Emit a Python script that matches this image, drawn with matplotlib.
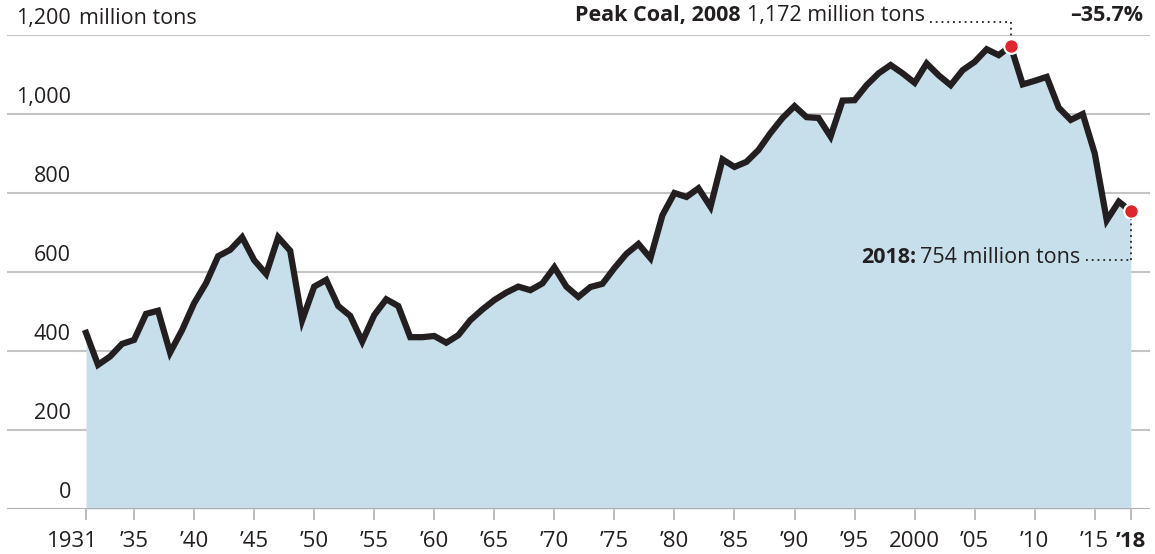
import matplotlib.pyplot as plt
from matplotlib.transforms import ScaledTranslation

# US coal production, million tons
years = list(range(1931, 2019))
tons = [446, 365, 386, 418, 428, 494, 502, 396, 453, 521,
        572, 640, 656, 688, 630, 595, 688, 654, 478, 563,
        580, 514, 489, 424, 491, 531, 514, 435, 435, 438,
        421, 440, 478, 505, 529, 548, 563, 554, 571, 612,
        563, 537, 562, 570, 610, 646, 671, 635, 744, 800,
        790, 812, 765, 885, 866, 879, 909, 952, 990, 1020,
        992, 990, 943, 1034, 1035, 1073, 1103, 1124, 1103, 1079,
        1128, 1098, 1073, 1111, 1132, 1164, 1149, 1172, 1075, 1084,
        1094, 1016, 985, 1000, 900, 731, 778, 754]

y_ticks = [0, 200, 400, 600, 800, 1000, 1200]
y_labels = ['0', '200', '400', '600', '800', '1,000', '1,200']
x_ticks = [1931, 1935, 1940, 1945, 1950, 1955, 1960, 1965, 1970, 1975,
           1980, 1985, 1990, 1995, 2000, 2005, 2010, 2015, 2018]
x_labels = ['1931', '’35', '’40', '’45', '’50', '’55', '’60', '’65', '’70', '’75',
            '’80', '’85', '’90', '’95', '2000', '’05', '’10', '’15', '’18']

peak_year, peak_val = 2008, 1172
last_year, last_val = 2018, 754

plt.rcParams['font.family'] = ['Open Sans', 'DejaVu Sans']
ink = '#231f20'
fs = 15.5

fig = plt.figure(figsize=(11.55, 5.54), dpi=100)
ax = fig.add_axes([7 / 1155, 45 / 554, 1143 / 1155, 474 / 554])
ax.set_xlim(1924.42, 2019.6)
ax.set_ylim(0, 1200)

for s in ax.spines.values():
    s.set_visible(False)

# gridlines
for v in y_ticks[1:]:
    ax.axhline(v, color='#c4c4c4', lw=1.5, zorder=1)
ax.axhline(0, color='#b0b0b0', lw=2.2, zorder=4)

ax.fill_between(years, tons, 0, color='#c7dfea', lw=0, zorder=2)
ax.plot(years, tons, color=ink, lw=4.5, solid_joinstyle='miter', zorder=3)

ax.plot([peak_year, last_year], [peak_val, last_val], 'o', ms=10.5,
        mfc='#e2242b', mec='white', mew=1.6, zorder=5, clip_on=False)

# y labels above gridlines
ax.set_yticks([])
for v, lab in zip(y_ticks, y_labels):
    ax.annotate(lab, xy=(0, v), xycoords=('axes fraction', 'data'),
                xytext=(64, 6), textcoords='offset pixels',
                ha='right', va='bottom', fontsize=fs, color=ink)
ax.annotate('million tons', xy=(0, 1200), xycoords=('axes fraction', 'data'),
            xytext=(72, 6), textcoords='offset pixels',
            ha='left', va='bottom', fontsize=fs, color=ink)

# x ticks
ax.set_xticks(x_ticks)
ax.set_xticklabels(x_labels)
ax.tick_params(axis='x', length=8, width=1.2, color='#b0b0b0', pad=8,
               labelsize=16, labelcolor=ink)
labs = ax.get_xticklabels()
labs[-1].set_fontweight('bold')
labs[0].set_transform(labs[0].get_transform() + ScaledTranslation(-0.14, 0, fig.dpi_scale_trans))

# peak annotation
fig.canvas.draw()
r = fig.canvas.get_renderer()
t1 = ax.annotate('1,172 million tons', xy=(2000.9, 1200), xytext=(0, 9),
                 textcoords='offset pixels', ha='right', va='bottom',
                 fontsize=fs, color=ink, annotation_clip=False)
bb = t1.get_window_extent(r)
ax.annotate('Peak Coal, 2008', xy=(bb.x0 - 7, bb.y0), xycoords='figure pixels',
            ha='right', va='bottom', fontsize=fs, fontweight='bold', color=ink)
ax.plot([2001.3, peak_year], [1233, 1233], color=ink, lw=1.3, ls=(0, (1, 2.2)),
        clip_on=False, zorder=5)
ax.plot([peak_year, peak_year], [1233, peak_val + 20], color=ink, lw=1.3,
        ls=(0, (1, 2.2)), clip_on=False, zorder=5)
ax.annotate('–35.7%', xy=(2019.0, 1200), xytext=(0, 9), textcoords='offset pixels',
            ha='right', va='bottom', fontsize=fs, fontweight='bold', color=ink,
            annotation_clip=False)

# 2018 annotation
t2 = ax.annotate('754 million tons', xy=(2013.8, 624), ha='right', va='baseline',
                 fontsize=fs, color=ink, zorder=6)
bb2 = t2.get_window_extent(r)
ax.annotate('2018:', xy=(bb2.x0 - 4, 554 - 263), xycoords='figure pixels',
            ha='right', va='baseline', fontsize=fs, fontweight='bold', color=ink)
ax.plot([2014.3, last_year], [630, 630], color=ink, lw=1.3, ls=(0, (1, 2.2)), zorder=5)
ax.plot([last_year, last_year], [630, last_val - 20], color=ink, lw=1.3,
        ls=(0, (1, 2.2)), zorder=5, clip_on=False)

fig.savefig('out.png', dpi=100)
